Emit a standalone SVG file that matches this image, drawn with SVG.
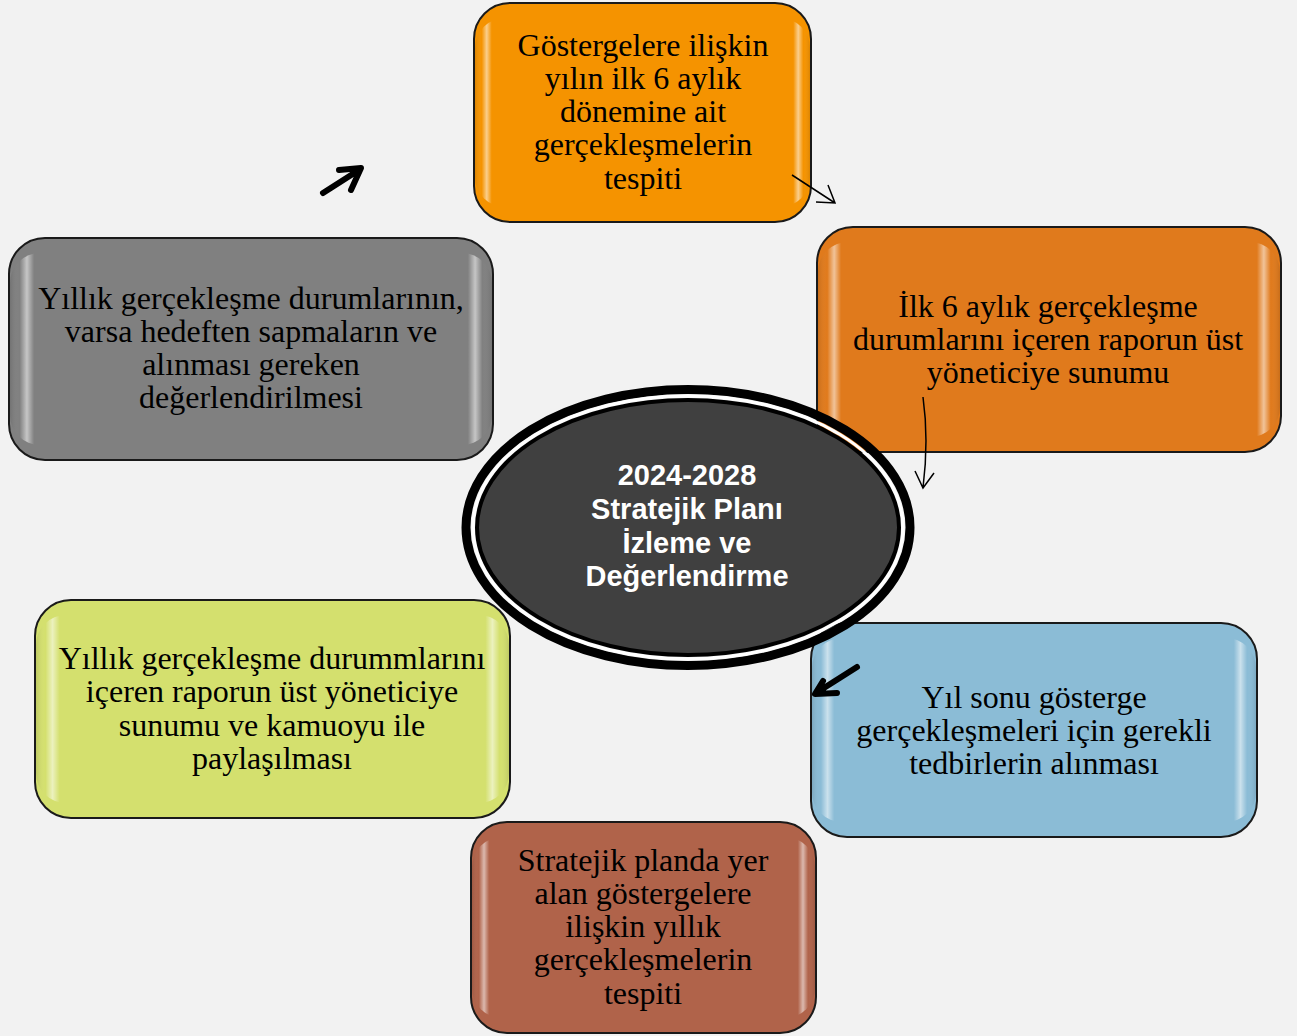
<svg xmlns="http://www.w3.org/2000/svg" width="1297" height="1036" viewBox="0 0 1297 1036">
<style>
.box{stroke:#1a1a1a;stroke-width:2}
.gl{fill:url(#gloss);stroke:none}
.t{font-family:"Liberation Serif","Times New Roman",serif;font-size:32px;fill:#000;text-anchor:middle}
.c{font-family:"Liberation Sans",Arial,sans-serif;font-size:29px;font-weight:bold;fill:#fff;text-anchor:middle}
.thin{fill:none;stroke:#000;stroke-width:1.5}
.thick{fill:none;stroke:#000;stroke-width:6;stroke-linecap:round;stroke-linejoin:round}
</style>
<defs>
<linearGradient id="gloss" x1="0" y1="0" x2="1" y2="0">
<stop offset="0" stop-color="#000" stop-opacity="0.1"/>
<stop offset="0.02" stop-color="#fff" stop-opacity="0"/>
<stop offset="0.035" stop-color="#fff" stop-opacity="0.55"/>
<stop offset="0.05" stop-color="#fff" stop-opacity="0"/>
<stop offset="0.95" stop-color="#fff" stop-opacity="0"/>
<stop offset="0.965" stop-color="#fff" stop-opacity="0.55"/>
<stop offset="0.98" stop-color="#fff" stop-opacity="0"/>
<stop offset="1" stop-color="#000" stop-opacity="0.1"/>
</linearGradient>
</defs>
<rect width="1297" height="1036" fill="#f2f2f2"/>

<g id="n1">
<rect class="box" x="474" y="3" width="337" height="219" rx="36" fill="#f59300"/>
<rect class="gl" x="475" y="18" width="335" height="189" rx="30"/>
<text class="t" x="643" y="56">Göstergelere ilişkin</text>
<text class="t" x="643" y="89">yılın ilk 6 aylık</text>
<text class="t" x="643" y="122">dönemine ait</text>
<text class="t" x="643" y="155">gerçekleşmelerin</text>
<text class="t" x="643" y="189">tespiti</text>
</g>

<g id="n2">
<rect class="box" x="817" y="227" width="464" height="225" rx="36" fill="#e07a1c"/>
<rect class="gl" x="818" y="242" width="462" height="195" rx="30"/>
<text class="t" x="1048" y="317">İlk 6 aylık gerçekleşme</text>
<text class="t" x="1048" y="350">durumlarını içeren raporun üst</text>
<text class="t" x="1048" y="383">yöneticiye sunumu</text>
</g>

<g id="n3">
<rect class="box" x="811" y="623" width="446" height="214" rx="36" fill="#8bbcd6"/>
<rect class="gl" x="812" y="638" width="444" height="184" rx="30"/>
<text class="t" x="1034" y="708">Yıl sonu gösterge</text>
<text class="t" x="1034" y="741">gerçekleşmeleri için gerekli</text>
<text class="t" x="1034" y="774">tedbirlerin alınması</text>
</g>

<g id="n4">
<rect class="box" x="471" y="822" width="345" height="211" rx="36" fill="#b0634a"/>
<rect class="gl" x="472" y="837" width="343" height="181" rx="30"/>
<text class="t" x="643" y="871">Stratejik planda yer</text>
<text class="t" x="643" y="904">alan göstergelere</text>
<text class="t" x="643" y="937">ilişkin yıllık</text>
<text class="t" x="643" y="970">gerçekleşmelerin</text>
<text class="t" x="643" y="1004">tespiti</text>
</g>

<g id="n5">
<rect class="box" x="35" y="600" width="475" height="218" rx="36" fill="#d4e06e"/>
<rect class="gl" x="36" y="615" width="473" height="188" rx="30"/>
<text class="t" x="272" y="669">Yıllık gerçekleşme durummlarını</text>
<text class="t" x="272" y="702">içeren raporun üst yöneticiye</text>
<text class="t" x="272" y="736">sunumu ve kamuoyu ile</text>
<text class="t" x="272" y="769">paylaşılması</text>
</g>

<g id="n6">
<rect class="box" x="9" y="238" width="484" height="222" rx="36" fill="#808080"/>
<rect class="gl" x="10" y="253" width="482" height="192" rx="30"/>
<text class="t" x="251" y="309">Yıllık gerçekleşme durumlarının,</text>
<text class="t" x="251" y="342">varsa hedeften sapmaların ve</text>
<text class="t" x="251" y="375">alınması gereken</text>
<text class="t" x="251" y="408">değerlendirilmesi</text>
</g>

<g id="center">
<ellipse cx="688" cy="527.5" rx="222" ry="138" fill="none" stroke="#000" stroke-width="9"/>
<ellipse cx="688" cy="527.5" rx="215" ry="131.5" fill="none" stroke="#fff" stroke-width="3"/>
<ellipse cx="688" cy="527.5" rx="211" ry="127.5" fill="#404040" stroke="#000" stroke-width="4"/>
<text class="c" x="687" y="485">2024-2028</text>
<text class="c" x="687" y="519">Stratejik Planı</text>
<text class="c" x="687" y="553">İzleme ve</text>
<text class="c" x="687" y="586">Değerlendirme</text>
</g>

<g id="connectors">
<path class="thin" d="M792,175 L835,203 M828,185 L835,203 L816,202"/>
<path class="thin" d="M923,397 Q929,440 923,488 M915,471 L923,488 L934,473"/>
<path class="thick" d="M323,193 L359,170 M339,170 L361,168 L351,190"/>
<path class="thick" d="M857,667 L816,693 M823,681 L815,694 L837,693"/>
</g>
</svg>
